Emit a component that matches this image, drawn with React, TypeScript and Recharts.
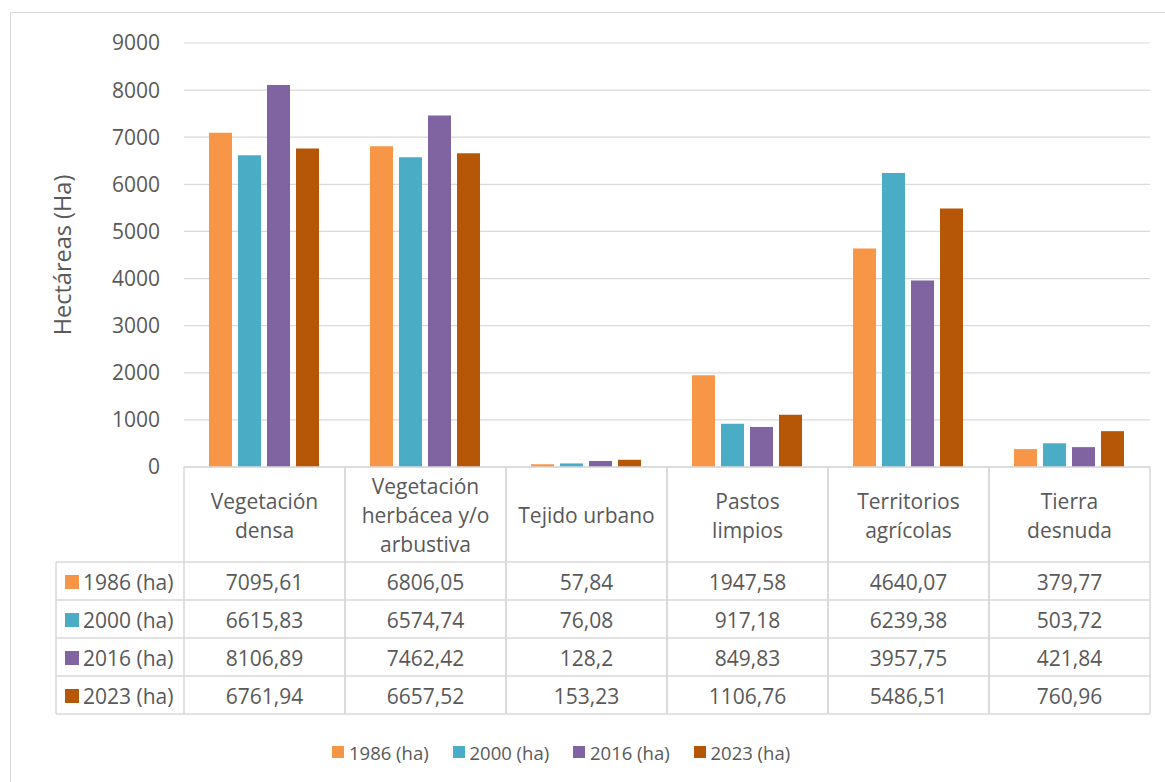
import React from 'react'
import { BarChart, Bar, XAxis, YAxis, CartesianGrid } from 'recharts'

const categories = [
  'Vegetación\ndensa',
  'Vegetación\nherbácea y/o\narbustiva',
  'Tejido urbano',
  'Pastos\nlimpios',
  'Territorios\nagrícolas',
  'Tierra\ndesnuda',
]
const values1986 = [7095.61, 6806.05, 57.84, 1947.58, 4640.07, 379.77]
const values2000 = [6615.83, 6574.74, 76.08, 917.18, 6239.38, 503.72]
const values2016 = [8106.89, 7462.42, 128.2, 849.83, 3957.75, 421.84]
const values2023 = [6761.94, 6657.52, 153.23, 1106.76, 5486.51, 760.96]
const seriesNames = ['1986 (ha)', '2000 (ha)', '2016 (ha)', '2023 (ha)']
const seriesValues = [values1986, values2000, values2016, values2023]
const colors = ['#F79646', '#4BACC6', '#8064A2', '#B65708']
const yTicks = [0, 1000, 2000, 3000, 4000, 5000, 6000, 7000, 8000, 9000]

const data = categories.map((name, i) => ({
  name,
  s0: values1986[i],
  s1: values2000[i],
  s2: values2016[i],
  s3: values2023[i],
}))

const FONT = '"Open Sans", sans-serif'
const TEXT = '#595959'
const LINE = '#d9d9d9'
const FS = 21
const HEADER_H = 95
const ROW_H = 38
const KEY_W = 128

const fmt = (v: number) => String(v).replace('.', ',')

// x-axis tick draws one column of the data table below the plot
const TableTick = (props: any) => {
  const { x, y, payload } = props
  const i = payload.index
  const colW = props.width ? props.width / categories.length : 161
  const half = colW / 2
  const left = x - half
  const right = x + half
  const bottom = y + HEADER_H + ROW_H * seriesNames.length
  const lines = categories[i].split('\n')
  const els: React.ReactNode[] = []

  els.push(<line key="vl" x1={left} x2={left} y1={y} y2={bottom} stroke={LINE} strokeWidth={1.5} />)
  els.push(<line key="vr" x1={right} x2={right} y1={y} y2={bottom} stroke={LINE} strokeWidth={1.5} />)
  for (let r = 0; r <= seriesNames.length; r++) {
    const ry = y + HEADER_H + r * ROW_H
    els.push(<line key={'h' + r} x1={left} x2={right} y1={ry} y2={ry} stroke={LINE} strokeWidth={1.5} />)
  }
  lines.forEach((t, k) => {
    els.push(
      <text key={'c' + k} x={x} y={y + 48 + (k - (lines.length - 1) / 2) * 29} textAnchor="middle"
        dominantBaseline="central" fontSize={FS} fill={TEXT} fontFamily={FONT}>{t}</text>
    )
  })
  seriesValues.forEach((vals, r) => {
    els.push(
      <text key={'v' + r} x={x} y={y + HEADER_H + r * ROW_H + 20} textAnchor="middle"
        dominantBaseline="central" fontSize={FS} fill={TEXT} fontFamily={FONT}>{fmt(vals[i])}</text>
    )
  })

  if (i === 0) {
    const kx = left - KEY_W
    els.push(<line key="kl" x1={kx} x2={kx} y1={y + HEADER_H} y2={bottom} stroke={LINE} strokeWidth={1.5} />)
    for (let r = 0; r <= seriesNames.length; r++) {
      const ry = y + HEADER_H + r * ROW_H
      els.push(<line key={'kh' + r} x1={kx} x2={left} y1={ry} y2={ry} stroke={LINE} strokeWidth={1.5} />)
    }
    seriesNames.forEach((n, r) => {
      const cy = y + HEADER_H + r * ROW_H + 20
      els.push(<rect key={'ks' + r} x={kx + 9} y={cy - 7} width={14} height={14} fill={colors[r]} />)
      els.push(
        <text key={'kt' + r} x={kx + 27} y={cy} dominantBaseline="central" fontSize={FS}
          fill={TEXT} fontFamily={FONT}>{n}</text>
      )
    })
  }
  return <g>{els}</g>
}

const YLabel = (props: any) => {
  const vb = props.viewBox
  const cx = vb.x + 52
  const cy = vb.y + vb.height / 2
  return (
    <text x={cx} y={cy} transform={`rotate(-90 ${cx} ${cy})`} textAnchor="middle"
      dominantBaseline="central" fontSize={23.5} fill={TEXT} fontFamily={FONT}>
      Hectáreas (Ha)
    </text>
  )
}

export default function App() {
  return (
    <div style={{ position: 'absolute', left: 0, top: 0, width: 1165, height: 782, overflow: 'hidden', background: '#fff' }}>
      <div style={{ position: 'absolute', left: 10, top: 12, width: 1200, height: 800, border: '1.5px solid ' + LINE }} />
      <div style={{ position: 'absolute', left: 0, top: 0 }}>
        <BarChart width={1165} height={782} data={data}
          margin={{ top: 43, right: 15, left: 10, bottom: 66 }}
          barCategoryGap={25} barGap={6}>
          <CartesianGrid vertical={false} stroke={LINE} strokeWidth={1.2} />
          <YAxis width={174} domain={[0, 9000]} ticks={yTicks} axisLine={false} tickLine={false}
            tickSize={6} tickMargin={18} interval={0}
            tick={{ fontSize: FS, fill: TEXT, fontFamily: FONT }}
            label={<YLabel />} />
          <XAxis dataKey="name" height={249} axisLine={{ stroke: LINE, strokeWidth: 1.5 }} tickLine={false}
            tickSize={0} tickMargin={0} interval={0} tick={<TableTick />} />
          {seriesNames.map((n, k) => (
            <Bar key={n} dataKey={'s' + k} name={n} fill={colors[k]} isAnimationActive={false} />
          ))}
        </BarChart>
      </div>
      <div style={{ position: 'absolute', left: 332, top: 738, display: 'flex', fontFamily: FONT, fontSize: 18.5, color: TEXT }}>
        {seriesNames.map((n, k) => (
          <div key={n} style={{ width: 120.5, display: 'flex', alignItems: 'center', height: 28 }}>
            <span style={{ width: 12, height: 12, background: colors[k], marginRight: 5, display: 'inline-block' }} />
            <span>{n}</span>
          </div>
        ))}
      </div>
    </div>
  )
}
